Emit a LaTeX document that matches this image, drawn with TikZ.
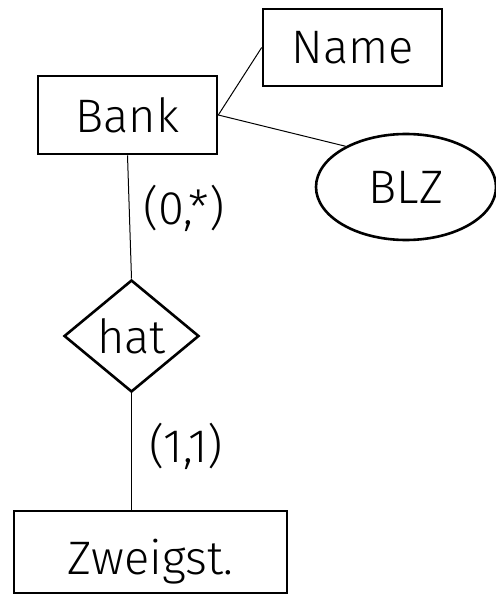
\documentclass[tikz,border=0pt]{standalone}
\usepackage{fontspec}
\setmainfont{Fira Sans}[UprightFont={* Light}]
\usetikzlibrary{shapes.geometric}
\begin{document}
\begin{tikzpicture}[x=1pt,y=-1pt,
  every node/.style={font=\fontsize{47}{52}\selectfont, inner sep=0pt},
  entity/.style={draw, line width=2.6pt, rectangle},
  attrib/.style={draw, line width=2.6pt, ellipse},
  relation/.style={draw, line width=2.6pt, diamond},
  conn/.style={line width=1pt},
  card/.style={}]
\useasboundingbox (0,0) rectangle (495,596);
\node[entity, minimum width=179pt, minimum height=77pt] (name) at (352.5,47.5) {Name};
\node[entity, minimum width=179pt, minimum height=78pt] (bank) at (127.5,115) {Bank};
\node[attrib, minimum width=180pt, minimum height=106pt] (blz) at (406,187) {BLZ};
\node[relation, minimum width=135pt, minimum height=112pt] (hat) at (131.5,336) {hat};
\node[entity, minimum width=273pt, minimum height=82pt,
  label={[yshift=-10pt]center:Zweigst.}] (zw) at (150.5,552) {};
\node[card] (c1) at (184,208) {(0,*)};
\node[card] (c2) at (186,446) {(1,1)};
\draw[conn] (bank.east) -- (name.west);
\draw[conn] (bank.east) -- (blz.146);
\draw[conn] (bank.south) -- (hat.north);
\draw[conn] (hat.south) -- (hat.south |- zw.north);
\end{tikzpicture}
\end{document}
